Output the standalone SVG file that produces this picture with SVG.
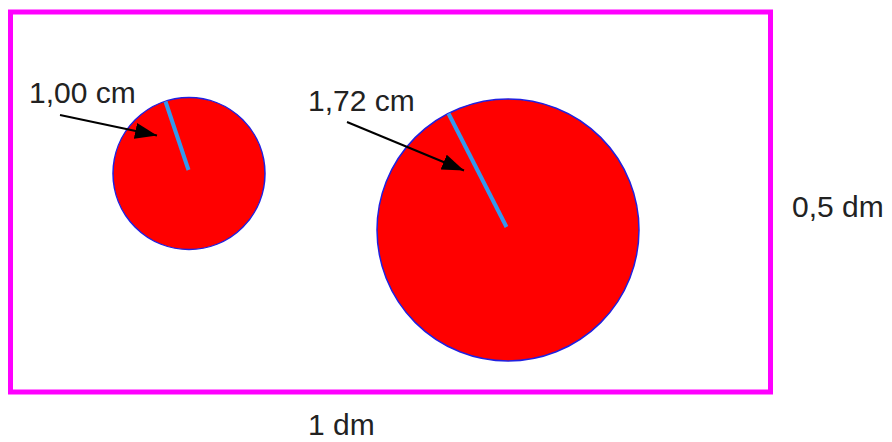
<svg xmlns="http://www.w3.org/2000/svg" width="892" height="442" viewBox="0 0 892 442">
<style>
text{font-family:"Liberation Sans",Arial,sans-serif;font-size:30px;fill:#222}
.disc{fill:#ff0000;stroke:#2020e0;stroke-width:1.5}
.rad{stroke:#3399ee;stroke-width:4;stroke-linecap:butt}
.ptr{stroke:#000;stroke-width:2;fill:none;marker-end:url(#ah)}
</style>
<defs>
<marker id="ah" viewBox="0 0 10 10" refX="10" refY="5" markerWidth="10" markerHeight="10" markerUnits="userSpaceOnUse" orient="auto">
<path d="M0,0 L10,5 L0,10 z" fill="#000"/>
</marker>
<marker id="ah2" viewBox="0 0 10 10" refX="10" refY="5" markerWidth="22" markerHeight="16" markerUnits="userSpaceOnUse" orient="auto" preserveAspectRatio="none">
<path d="M0,0 L10,5 L0,10 z" fill="#000"/>
</marker>
</defs>
<rect x="10.5" y="12" width="760" height="380" fill="#fff" stroke="#ff00ff" stroke-width="5"/>
<g id="small-circle">
<circle class="disc" cx="189" cy="173.5" r="76"/>
<line class="rad" x1="165.5" y1="101.5" x2="188.5" y2="170"/>
</g>
<g id="large-circle">
<circle class="disc" cx="508" cy="230" r="131"/>
<line class="rad" x1="448.5" y1="113.5" x2="506.5" y2="227"/>
</g>
<g id="connectors">
<line x1="60" y1="115" x2="157" y2="135.5" stroke="#000" stroke-width="2" marker-end="url(#ah2)"/>
<line x1="347" y1="122" x2="464" y2="170.5" stroke="#000" stroke-width="2" marker-end="url(#ah2)"/>
</g>
<g id="labels">
<text x="29" y="103">1,00 cm</text>
<text x="308" y="111">1,72 cm</text>
<text x="792" y="217">0,5 dm</text>
<text x="308" y="435">1 dm</text>
</g>
</svg>
